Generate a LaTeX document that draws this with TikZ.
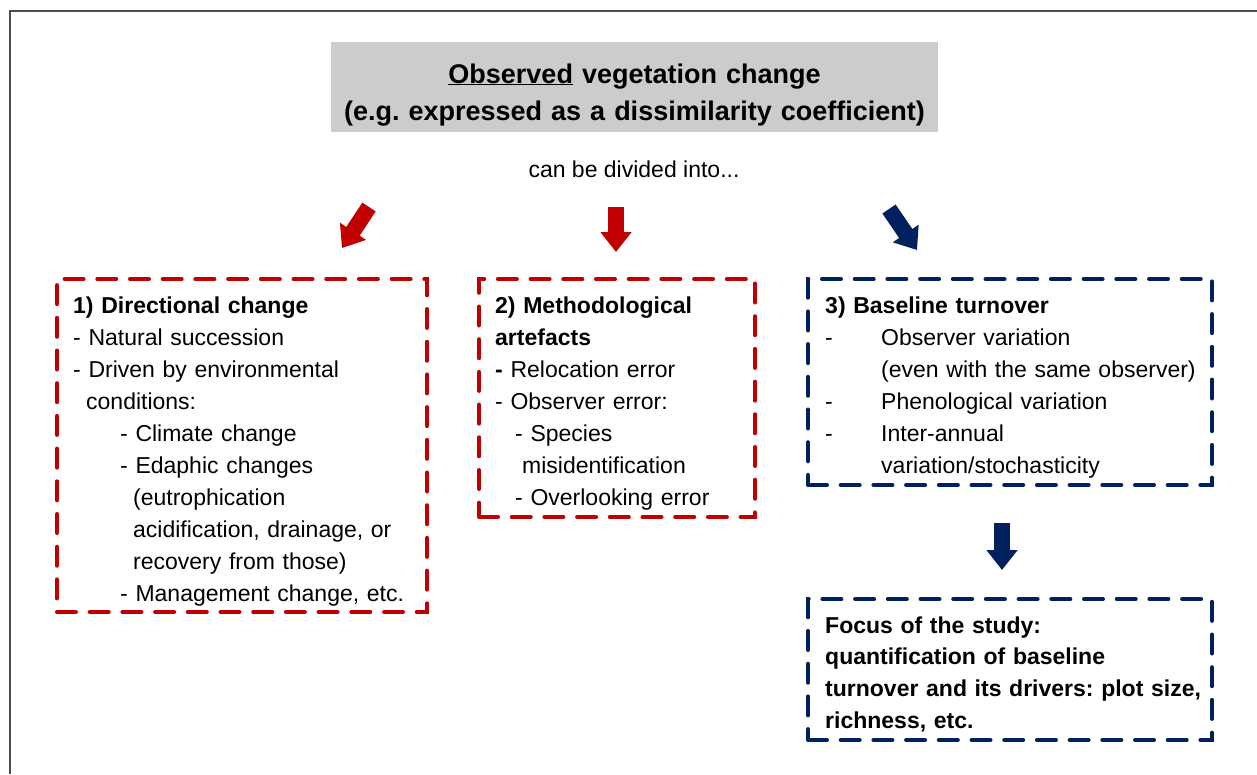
\documentclass[tikz,border=0pt]{standalone}
\usepackage{fontspec}
\setmainfont{Liberation Sans}
\frenchspacing
\usetikzlibrary{arrows.meta,calc,positioning}
\definecolor{Brick}{HTML}{C00000}
\definecolor{Navy}{HTML}{002060}
\definecolor{Shade}{HTML}{CCCCCC}
\tikzset{
  headbox/.style={fill=Shade,minimum width=607pt,minimum height=90pt,inner sep=0pt},
  headtext/.style={anchor=base,inner sep=0pt,text width=600pt,align=center,
    font=\fontsize{27}{37}\selectfont\bfseries},
  plaintext/.style={anchor=base,inner sep=0pt,font=\fontsize{23}{32}\selectfont},
  dashbox/.style={anchor=north west,inner sep=0pt,outer sep=0pt,line width=4pt,
    dash pattern=on 19pt off 13.7pt,line cap=round},
  boxtext/.style={anchor=base west,inner sep=0pt,align=left,font=\fontsize{23}{32}\selectfont},
  blockarrow/.style={-{Triangle[width=30pt,length=20pt]},line width=16pt},
}

\begin{document}
\begin{tikzpicture}[x=1pt,y=-1pt]
  \useasboundingbox (0,0) rectangle (1257,774);
  \draw[line width=1.4pt,black!70] (1257,11) -- (10,11) -- (10,774);

  \node[headbox] (h) at (634.5,87) {};
  \node[headtext] (ht) at (634.5,83) {\underline{Observed} vegetation change\\
    (e.g. expressed as a dissimilarity coefficient)};
  \node[plaintext] (div) at (634,177) {can be divided into...};

  \node[dashbox,draw=Brick,minimum width=370pt,minimum height=333pt] (dc) at (57,279) {};
  \node[dashbox,draw=Brick,minimum width=276pt,minimum height=238pt] (ma) at (479,279) {};
  \node[dashbox,draw=Navy,minimum width=404pt,minimum height=206pt] (bt) at (808,279) {};
  \node[dashbox,draw=Navy,minimum width=404pt,minimum height=141pt] (fs) at (808,599) {};

  \node[boxtext,text width=350pt] (dct) at (73,313) {\textbf{1) Directional change}\\
    - Natural succession\\
    - Driven by environmental\\
    \hspace*{13pt}conditions:\\
    \hspace*{47pt}- Climate change\\
    \hspace*{47pt}- Edaphic changes\\
    \hspace*{60pt}(eutrophication\\
    \hspace*{60pt}acidification, drainage, or\\
    \hspace*{60pt}recovery from those)\\
    \hspace*{47pt}- Management change, etc.};
  \node[boxtext,text width=255pt] (mat) at (495,313) {\textbf{2) Methodological}\\
    \textbf{artefacts}\\
    \textbf{-} Relocation error\\
    - Observer error:\\
    \hspace*{20pt}- Species\\
    \hspace*{27pt}misidentification\\
    \hspace*{20pt}- Overlooking error};
  \node[boxtext,text width=385pt] (btt) at (825,313) {\textbf{3) Baseline turnover}\\
    \makebox[56pt][l]{-}Observer variation\\
    \hspace*{56pt}(even with the same observer)\\
    \makebox[56pt][l]{-}Phenological variation\\
    \makebox[56pt][l]{-}Inter-annual\\
    \hspace*{56pt}variation/stochasticity};
  \node[boxtext,text width=385pt,font=\fontsize{23}{31.7}\selectfont\bfseries] (fst) at (825,633)
    {Focus of the study:\\
    quantification of baseline\\
    turnover and its drivers: plot size,\\
    richness, etc.};

  \coordinate (a1s) at (369,207); \coordinate (a1e) at (342,248);
  \coordinate (a2s) at (616,207); \coordinate (a2e) at (616,252);
  \coordinate (a3s) at (889,209); \coordinate (a3e) at (917,250);
  \coordinate (a4s) at (1002,523); \coordinate (a4e) at (1002,570);
  \draw[blockarrow,Brick] (a1s) -- (a1e);
  \draw[blockarrow,Brick] (a2s) -- (a2e);
  \draw[blockarrow,Navy] (a3s) -- (a3e);
  \draw[blockarrow,Navy] (a4s) -- (a4e);
\end{tikzpicture}
\end{document}
